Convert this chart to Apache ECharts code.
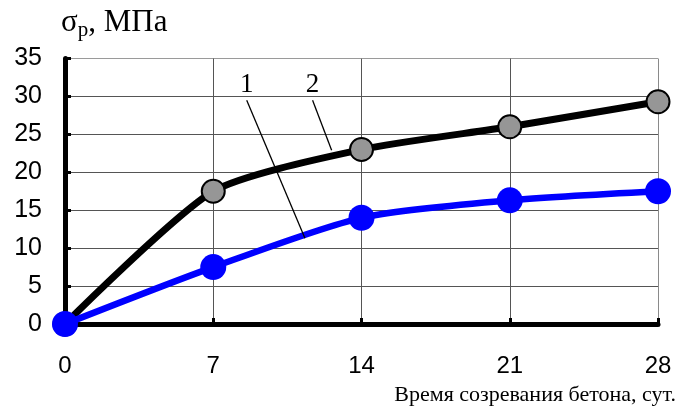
<!DOCTYPE html>
<html><head><meta charset="utf-8">
<script src="https://cdn.jsdelivr.net/npm/echarts@6/dist/echarts.min.js"></script>
<style>html,body{margin:0;padding:0;background:#fff}#c{width:677px;height:412px}</style>
</head><body><div id="c"></div>
<script>
const days = [0, 7, 14, 21, 28];
const series1 = [0, 7.5, 14, 16.3, 17.5];   // curve 1 (blue)
const series2 = [0, 17.5, 23, 26, 29.3];    // curve 2 (black)
const yTicks = [0, 5, 10, 15, 20, 25, 30, 35];
const xTicks = [0, 7, 14, 21, 28];

// annotation leader lines (data coords)
const notes = [
  { text: '1', from: [8.58, 29.5], to: [11.33, 11.3] },
  { text: '2', from: [11.69, 29.5], to: [12.59, 22.9] }
];

const chart = echarts.init(document.getElementById('c'), null, { renderer: 'canvas' });
const pair = (xs, ys) => xs.map((x, i) => [x, ys[i]]);
const gridColors = yTicks.map((v, i) => i === yTicks.length - 1 ? '#9a9a9a' : '#555');
const xGridColors = xTicks.map((v, i) => i === xTicks.length - 1 ? '#8a8a8a' : '#555');

chart.setOption({
  animation: false,
  grid: { left: 65, right: 19, top: 58.5, bottom: 88, containLabel: false },
  title: [
    { text: '{s|σ}{sub|p}{s|, МПа}', left: 61, top: 4, padding: 0,
      textStyle: { fontWeight: 'normal', rich: {
        s: { fontFamily: 'Liberation Serif', fontSize: 31, fontWeight: 'normal', color: '#000' },
        sub: { fontFamily: 'Liberation Serif', fontSize: 21, fontWeight: 'normal', color: '#000', verticalAlign: 'bottom', padding: [16, 0, 0, 0] }
      } } },
    { text: 'Время созревания бетона, сут.', right: 1, top: 384, padding: 0,
      textStyle: { fontFamily: 'Liberation Serif', fontSize: 22, fontWeight: 'normal', color: '#000' } }
  ],
  xAxis: {
    type: 'value', min: 0, max: 28, interval: 7,
    axisLine: { show: true, onZero: false, lineStyle: { color: '#000', width: 5 } },
    axisTick: { show: true, inside: true, length: 6, lineStyle: { color: '#000', width: 3 } },
    axisLabel: { margin: 30, fontFamily: 'Liberation Sans', fontSize: 24, color: '#000',
      formatter: v => xTicks.includes(v) ? String(v) : '' },
    splitLine: { show: true, lineStyle: { color: xGridColors, width: 1 } }
  },
  yAxis: {
    type: 'value', min: 0, max: 35, interval: 5,
    axisLine: { show: true, onZero: false, lineStyle: { color: '#000', width: 5 } },
    axisTick: { show: true, inside: true, length: 6, lineStyle: { color: '#000', width: 3 } },
    axisLabel: { margin: 23, fontFamily: 'Liberation Sans', fontSize: 25, color: '#000',
      formatter: v => yTicks.includes(v) ? String(v) : '' },
    splitLine: { show: true, lineStyle: { color: gridColors, width: 1 } }
  },
  series: [
    {
      name: '2', type: 'line', data: pair(days, series2), smooth: 0.22,
      lineStyle: { color: '#000', width: 7 },
      symbol: 'circle', symbolSize: 23,
      itemStyle: { color: '#969696', borderColor: '#000', borderWidth: 2 },
      z: 3
    },
    {
      name: '1', type: 'line', data: pair(days, series1), smooth: 0.25,
      lineStyle: { color: '#0000ff', width: 6.5 },
      symbol: 'circle', symbolSize: 26,
      itemStyle: { color: '#0000ff', borderWidth: 0 },
      z: 4
    },
    {
      name: 'notes', type: 'lines', coordinateSystem: 'cartesian2d', silent: true, z: 5,
      lineStyle: { color: '#000', width: 1.3, opacity: 1 },
      data: notes.map(n => ({ coords: [n.from, n.to] }))
    }
  ]
});

const texts = notes.map(n => {
  const p = chart.convertToPixel({ gridIndex: 0 }, n.from);
  return { type: 'text', x: p[0], y: p[1] - 2, z: 10,
    style: { text: n.text, fontFamily: 'Liberation Serif', fontSize: 27, fill: '#000',
      align: 'center', verticalAlign: 'bottom' } };
});
chart.setOption({ graphic: texts });
</script>
</body></html>
